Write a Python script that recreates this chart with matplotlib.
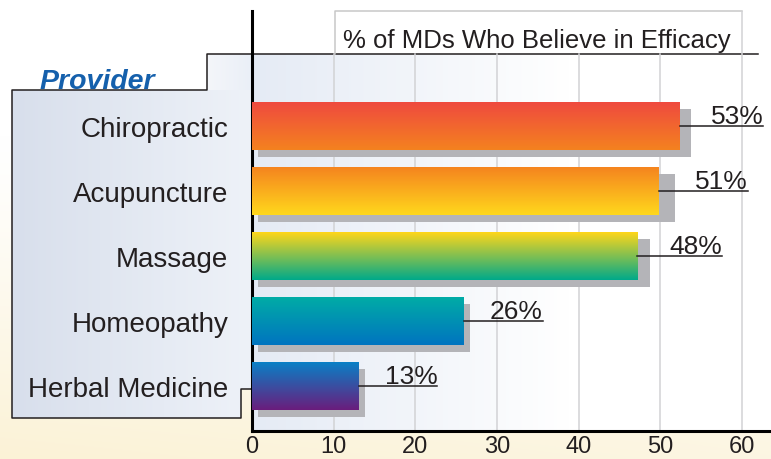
import numpy as np
import matplotlib
matplotlib.use('Agg')
import matplotlib.pyplot as plt
from matplotlib.colors import to_rgb

plt.rcParams['font.family'] = ['Liberation Sans', 'DejaVu Sans']

# data
providers = ['Chiropractic', 'Acupuncture', 'Massage', 'Homeopathy', 'Herbal Medicine']
pct_labels = ['53%', '51%', '48%', '26%', '13%']
bar_len = [52.4, 49.8, 47.2, 25.9, 13.1]
shadow_len = [53.7, 51.8, 48.7, 26.7, 13.8]
xticks = [0, 10, 20, 30, 40, 50, 60]
top_colors = ['#ef4a3f', '#f5841f', '#ffd61a', '#00aca6', '#0a80c6']
bottom_colors = ['#f4821f', '#ffd81c', '#00a98a', '#0074c0', '#6a1d7c']

W, H = 771, 460
ink = '#231f20'


def vgrad(c1, c2, n=128):
    a, b = np.array(to_rgb(c1)), np.array(to_rgb(c2))
    t = np.linspace(0, 1, n)[:, None]
    return (a * (1 - t) + b * t)[:, None, :]


def hgrad(c1, c2, n=128):
    return vgrad(c1, c2, n).transpose(1, 0, 2)


fig = plt.figure(figsize=(W / 100, H / 100), dpi=100)

# background layer in pixel coordinates
bg = fig.add_axes([0, 0, 1, 1], zorder=0)
bg.set_xlim(0, W)
bg.set_ylim(H, 0)
bg.axis('off')

yy = np.linspace(0, 1, 200)[:, None]
xx = np.linspace(0, 1, 200)[None, :]
t = np.clip((yy - 0.3) / 0.7, 0, 1) ** 1.2 * (1 - 0.3 * xx)
cream = np.array(to_rgb('#fbf2d6'))
img = np.ones((200, 200, 3)) * (1 - t[..., None]) + cream * t[..., None]
bg.imshow(img, extent=(0, W, H, 0), aspect='auto', interpolation='bilinear')

# panel behind the bars
panel = np.concatenate([hgrad('#e5ebf5', '#ffffff', 80)[0], np.ones((50, 3))])[None, :, :]
bg.imshow(panel, extent=(252, W, 432, 55), aspect='auto', interpolation='bilinear')

# left label box
bg.imshow(hgrad('#d8dfec', '#eef2f8'), extent=(12, 252, 390, 91), aspect='auto')
bg.imshow(hgrad('#d8dfec', '#edf1f8'), extent=(12, 241, 419, 390), aspect='auto')
bg.imshow(hgrad('#f4f6fa', '#eaeff7'), extent=(207, 252, 91, 55), aspect='auto')
bg.plot([W - 13, 207, 207, 12, 12, 241, 241, 252],
        [55, 55, 91, 91, 419, 419, 390, 390], color=ink, lw=1.1)

# title box
bg.plot([335, 335, 742], [55, 12, 12], color='#c8c8c8', lw=1.1)
bg.text(537, 48, '% of MDs Who Believe in Efficacy', ha='center', va='baseline',
        fontsize=18.5, color=ink)
bg.text(40, 89, 'Provider', fontsize=20.5, fontweight='bold', style='italic',
        color='#1560ac', va='baseline')
bg.set_xlim(0, W)
bg.set_ylim(H, 0)

# main chart
px = 8.167
ax = fig.add_axes([252 / W, 1 - 432 / H, (W - 252) / W, 420 / H], zorder=1)
ax.patch.set_alpha(0)
ytop, ybot = (12 - 127) / 65, (432 - 127) / 65
ygrid = (55 - 127) / 65
h = 48 / 65
dy = 7 / 65

for x in xticks[1:]:
    ax.plot([x, x], [ygrid if x < 60 else ytop, ybot], color='#d2d2d5', lw=1.1, zorder=1)

for i in range(len(providers)):
    ax.barh(i + dy, shadow_len[i] - 0.73, left=0.73, height=h, color='#b4b4b8', zorder=2)
    ax.imshow(vgrad(top_colors[i], bottom_colors[i]), aspect='auto', zorder=3,
              extent=(0, bar_len[i], i + h / 2, i - h / 2), interpolation='bilinear')

texts = []
for i in range(len(providers)):
    tx = ax.annotate(pct_labels[i], xy=(shadow_len[i], i), xytext=(14.4, 2),
                     textcoords='offset points', ha='left', va='baseline',
                     fontsize=19, color=ink, zorder=5)
    texts.append(tx)

ax.set_xlim(0, (W - 252) / px)
ax.set_ylim(ybot, ytop)
ax.set_xticks(xticks)
ax.set_yticks(range(len(providers)))
ax.set_yticklabels(providers)
ax.tick_params(axis='x', length=0, pad=3, labelsize=17, labelcolor=ink)
ax.tick_params(axis='y', length=0, pad=17, labelsize=20, labelcolor=ink)
for s in ['top', 'right']:
    ax.spines[s].set_visible(False)
for s in ['left', 'bottom']:
    ax.spines[s].set_linewidth(2.2)
    ax.spines[s].set_color('black')

fig.canvas.draw()
inv = ax.transData.inverted()
for i, tx in enumerate(texts):
    x_end = inv.transform(tx.get_window_extent().p1)[0]
    ax.plot([bar_len[i], x_end], [i, i], color=ink, lw=1.1, zorder=4)

ax.set_xlim(0, (W - 252) / px)
ax.set_ylim(ybot, ytop)

fig.savefig('out.png', dpi=100)
